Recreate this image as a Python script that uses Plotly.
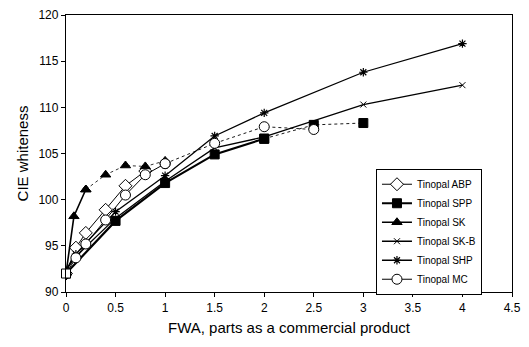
import plotly.graph_objects as go

# Data
abp_x = [0, 0.1, 0.2, 0.4, 0.6, 0.8]
abp_y = [92, 94.8, 96.4, 98.9, 101.5, 103.1]

spp_x = [0, 0.5, 1.0, 1.5, 2.0, 2.5, 3.0]
spp_y = [92, 97.7, 101.8, 104.9, 106.6, 108.1, 108.3]

sk_x = [0, 0.08, 0.2, 0.4, 0.6, 0.8, 1.0]
sk_y = [92, 98.2, 101.1, 102.7, 103.7, 103.6, 104.2]

skb_x = [0, 0.1, 0.2, 0.5, 1.0, 1.5, 2.0, 3.0, 4.0]
skb_y = [92.4, 93.8, 94.9, 98.0, 102.0, 105.6, 106.8, 110.3, 112.4]

shp_x = [0, 0.1, 0.2, 0.5, 1.0, 1.5, 2.0, 3.0, 4.0]
shp_y = [92.4, 94.1, 95.3, 98.7, 102.6, 106.9, 109.4, 113.8, 116.9]

mc_x = [0, 0.1, 0.2, 0.4, 0.6, 0.8, 1.0, 1.5, 2.0, 2.5]
mc_y = [92, 93.7, 95.2, 97.8, 100.5, 102.7, 103.9, 106.1, 107.9, 107.6]

start_x = [0]
start_y = [92]

x_ticks = [0, 0.5, 1, 1.5, 2, 2.5, 3, 3.5, 4, 4.5]
x_labels = ["0", "0.5", "1", "1.5", "2", "2.5", "3", "3.5", "4", "4.5"]
y_ticks = [90, 95, 100, 105, 110, 115, 120]

fig = go.Figure()


def two_part(x, y, k, name, sym, size, fill, w_solid, w_dot):
    """Solid line with markers up to index k (legend entry), dotted tail after."""
    mk = dict(symbol=sym, size=size, color=fill, line=dict(color="black", width=1))
    fig.add_trace(go.Scatter(x=x[k:], y=y[k:], mode="lines+markers", showlegend=False,
                             line=dict(color="black", width=w_dot, dash="dot"),
                             marker=mk, hoverinfo="skip"))
    fig.add_trace(go.Scatter(x=x[:k + 1], y=y[:k + 1], mode="lines+markers", name=name,
                             line=dict(color="black", width=w_solid), marker=mk))


fig.add_trace(go.Scatter(x=abp_x, y=abp_y, name="Tinopal ABP", mode="lines+markers",
                         line=dict(color="black", width=1),
                         marker=dict(symbol="diamond", size=10, color="white",
                                     line=dict(color="black", width=1))))
two_part(spp_x, spp_y, 4, "Tinopal SPP", "square", 9, "black", 2.2, 0.9)
two_part(sk_x, sk_y, 2, "Tinopal SK", "triangle-up", 9, "black", 1.6, 0.8)
fig.add_trace(go.Scatter(x=skb_x, y=skb_y, name="Tinopal SK-B", mode="lines+markers",
                         line=dict(color="black", width=1.3),
                         marker=dict(symbol="x-thin", size=6, color="black",
                                     line=dict(color="black", width=1))))
fig.add_trace(go.Scatter(x=shp_x, y=shp_y, name="Tinopal SHP", mode="lines+markers",
                         line=dict(color="black", width=1.3),
                         marker=dict(symbol="asterisk", size=7, color="black",
                                     line=dict(color="black", width=1.2))))
two_part(mc_x, mc_y, 6, "Tinopal MC", "circle", 10, "white", 1.0, 0.9)
fig.add_trace(go.Scatter(x=start_x, y=start_y, mode="markers", showlegend=False,
                         marker=dict(symbol="square", size=9, color="white",
                                     line=dict(color="black", width=1)),
                         cliponaxis=False))

font_family = "Liberation Sans, Arial, sans-serif"
fig.update_layout(
    width=529, height=347,
    margin=dict(l=66, r=8, t=13, b=55),
    paper_bgcolor="white", plot_bgcolor="white",
    font=dict(family=font_family, color="black", size=12),
    legend=dict(x=0.695, y=0.445, xanchor="left", yanchor="top",
                bordercolor="black", borderwidth=1, bgcolor="white",
                font=dict(size=10), tracegroupgap=0, itemwidth=30,
                traceorder="normal"),
    showlegend=True,
)
fig.update_xaxes(range=[0, 4.5], tickvals=x_ticks, ticktext=x_labels,
                 showline=True, linecolor="black", linewidth=1.3, mirror=True,
                 ticks="outside", ticklen=4, tickcolor="black", showgrid=False,
                 zeroline=False, tickfont=dict(size=12),
                 title=dict(text="FWA, parts as a commercial product",
                            font=dict(size=15), standoff=8))
fig.update_yaxes(range=[90, 120], tickvals=y_ticks,
                 showline=True, linecolor="black", linewidth=1.3, mirror=True,
                 ticks="outside", ticklen=4, tickcolor="black", showgrid=False,
                 zeroline=False, tickfont=dict(size=12),
                 title=dict(text="CIE whiteness", font=dict(size=15), standoff=6))

fig.write_html("out.html")
